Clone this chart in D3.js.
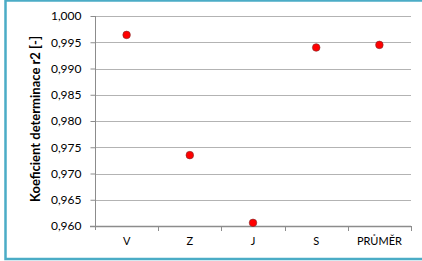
<!DOCTYPE html>
<html><head><meta charset="utf-8">
<script src="https://cdn.jsdelivr.net/npm/d3@7"></script>
<style>body{margin:0;background:#fff}svg{display:block}</style>
</head><body>
<script>
const categories = ["V", "Z", "J", "S", "PRŮMĚR"];
const values = [0.9964, 0.9735, 0.9606, 0.9940, 0.9945];
const yTicks = [0.960, 0.965, 0.970, 0.975, 0.980, 0.985, 0.990, 0.995, 1.000];
const yLabel = "Koeficient determinace r2 [-]";

const W = 422, H = 261;
const svg = d3.select("body").append("svg").attr("width", W).attr("height", H);
svg.append("rect").attr("x", 5.5).attr("y", 0.5).attr("width", 430).attr("height", 258.5)
  .attr("fill", "#fff").attr("stroke", "#4bacc6").attr("stroke-width", 2.5);

const m = {l: 95, r: 411, t: 16, b: 226};
const x = d3.scaleBand().domain(categories).range([m.l, m.r]);
const y = d3.scaleLinear().domain([0.960, 1.000]).range([m.b, m.t]);
const font = "Lato, 'Open Sans', sans-serif";

// gridlines
svg.append("g").selectAll("line").data(yTicks.slice(1)).join("line")
  .attr("x1", m.l).attr("x2", m.r)
  .attr("y1", d => Math.round(y(d)) + 0.5).attr("y2", d => Math.round(y(d)) + 0.5)
  .attr("stroke", "#b3b3b3").attr("stroke-width", 1);

// y axis
const fmt = d => d3.format(".3f")(d).replace(".", ",");
const ya = svg.append("g").attr("transform", `translate(${m.l + 0.5},0)`)
  .call(d3.axisLeft(y).tickValues(yTicks).tickFormat(fmt).tickSize(5).tickPadding(9));
ya.select(".domain").attr("stroke", "#8c8c8c").attr("d", `M0,${m.t}V${m.b + 4}`);
ya.selectAll(".tick line").attr("stroke", "#8c8c8c");
ya.selectAll(".tick text").attr("font-family", font).attr("font-size", 12).attr("fill", "#000");

// x axis
const xa = svg.append("g").attr("transform", `translate(0,${m.b + 0.5})`)
  .call(d3.axisBottom(x).tickSize(0).tickPadding(11));
xa.select(".domain").attr("stroke", "#8c8c8c").attr("stroke-width", 1.5).attr("d", `M${m.l - 5},0H${m.r}`);
xa.selectAll(".tick text").attr("font-family", font).attr("font-size", 11).attr("fill", "#000");
svg.append("g").selectAll("line").data(categories).join("line")
  .attr("x1", d => Math.round(x(d) + x.bandwidth()) + 0.5).attr("x2", d => Math.round(x(d) + x.bandwidth()) + 0.5)
  .attr("y1", m.b).attr("y2", m.b + 5).attr("stroke", "#8c8c8c");

// y label
svg.append("text").attr("transform", `translate(39.5,119) rotate(-90)`)
  .attr("text-anchor", "middle").attr("font-family", font).attr("font-weight", "bold")
  .attr("font-size", 13).text(yLabel);

// points
svg.append("g").selectAll("circle").data(values).join("circle")
  .attr("cx", (d, i) => x(categories[i]) + x.bandwidth() / 2)
  .attr("cy", d => y(d)).attr("r", 3.8)
  .attr("fill", "#ff0000").attr("stroke", "#7a3030").attr("stroke-width", 0.6);
</script>
</body></html>
